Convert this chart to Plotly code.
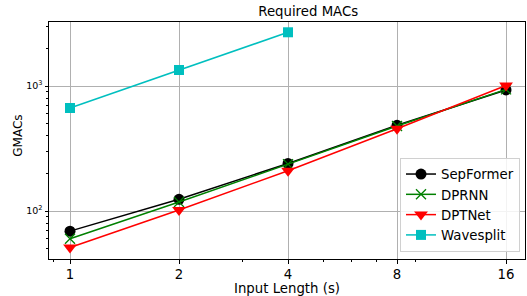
import plotly.graph_objects as go

input_len = [1, 2, 4, 8, 16]
sepformer = [69, 124, 240, 485, 930]
dprnn = [60, 118, 237, 478, 940]
dptnet = [51, 102, 210, 455, 1010]
wavesplit_x = [1, 2, 4]
wavesplit = [667, 1343, 2690]

x_ticks = [1, 2, 4, 8, 16]
x_minor = [0.9, 3, 5, 6, 7, 9]
y_ticks = [100, 1000]
y_ticktext = ["10<sup>2</sup>", "10<sup>3</sup>"]
y_minor = [50, 60, 70, 80, 90, 200, 300, 400, 500, 600, 700, 800, 900, 2000, 3000]

FONT = "DejaVu Sans"
FS = 13.3

fig = go.Figure()
fig.add_trace(go.Scatter(x=input_len, y=sepformer, name="SepFormer", mode="lines+markers",
                         line=dict(color="black", width=1.5),
                         marker=dict(symbol="circle", size=11, color="black")))
fig.add_trace(go.Scatter(x=input_len, y=dprnn, name="DPRNN", mode="lines+markers",
                         line=dict(color="#008000", width=1.5),
                         marker=dict(symbol="x-thin", size=10, color="#008000",
                                     line=dict(color="#008000", width=1.3))))
fig.add_trace(go.Scatter(x=input_len, y=dptnet, name="DPTNet", mode="lines+markers",
                         line=dict(color="#ff0000", width=1.5),
                         marker=dict(symbol="triangle-down", size=12, color="#ff0000")))
fig.add_trace(go.Scatter(x=wavesplit_x, y=wavesplit, name="Wavesplit", mode="lines+markers",
                         line=dict(color="#00bfbf", width=1.5),
                         marker=dict(symbol="square", size=10, color="#00bfbf")))

fig.update_layout(
    width=527, height=296,
    margin=dict(l=49, r=2, t=22, b=37, autoexpand=False),
    plot_bgcolor="white", paper_bgcolor="white",
    font=dict(family=FONT, color="black"),
    title=dict(text="Required MACs", x=0.5446, xanchor="center", xref="paper",
               y=0.962, yanchor="middle", yref="container", automargin=False,
               font=dict(size=FS, family=FONT, color="black")),
    legend=dict(x=0.9895, y=0.03, xanchor="right", yanchor="bottom",
                bgcolor="rgba(255,255,255,0.85)", bordercolor="#d0d0d0", borderwidth=1,
                font=dict(size=FS, family=FONT), tracegroupgap=0, itemwidth=30),
    showlegend=True,
    annotations=[dict(text="GMACs", textangle=-90, xref="paper", yref="paper",
                      x=-0.0651, y=0.52, xanchor="center", yanchor="middle",
                      showarrow=False, font=dict(size=12, family=FONT, color="black"))],
)

fig.update_xaxes(
    type="log", range=[-0.058, 1.2565], automargin=False,
    tickmode="array", tickvals=x_ticks, ticktext=[str(v) for v in x_ticks],
    showgrid=True, gridcolor="#b0b0b0", gridwidth=1,
    showline=True, linecolor="black", linewidth=1, mirror=True,
    ticks="outside", ticklen=3.5, tickcolor="black",
    tickfont=dict(size=FS, family=FONT),
    minor=dict(tickmode="array", tickvals=x_minor, ticks="outside", ticklen=2, tickcolor="black", showgrid=False),
    title=dict(text="Input Length (s)", font=dict(size=FS, family=FONT), standoff=7),
    zeroline=False,
)
fig.update_yaxes(
    type="log", range=[1.616, 3.512], automargin=False,
    tickmode="array", tickvals=y_ticks, ticktext=y_ticktext,
    showgrid=True, gridcolor="#b0b0b0", gridwidth=1,
    showline=True, linecolor="black", linewidth=1, mirror=True,
    ticks="outside", ticklen=3.5, tickcolor="black",
    tickfont=dict(size=9.5, family=FONT),
    minor=dict(tickmode="array", tickvals=y_minor, ticks="outside", ticklen=2, tickcolor="black", showgrid=False),
    zeroline=False,
)

fig.write_html("out.html", config={"displayModeBar": False},
               post_script="document.body.style.margin='0';document.body.style.overflow='hidden';")
